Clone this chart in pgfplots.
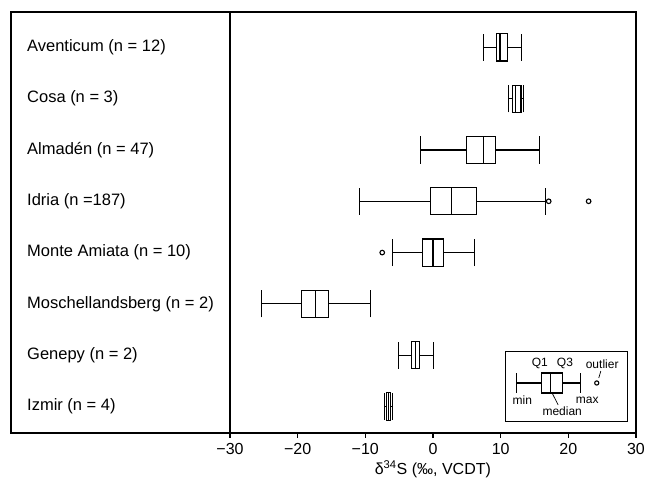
\documentclass[border=0pt]{standalone}
\usepackage{fontspec}
\setmainfont{Liberation Sans}
\usepackage{pgfplots}
\pgfplotsset{compat=1.18}
\usepgfplotslibrary{statistics}

\tikzset{bx/.style={black,line width=1.1pt,solid}}
\newcommand{\bp}[6]{%
\addplot[bx,boxplot prepared={draw position=#1,lower whisker=#2,lower quartile=#3,median=#4,upper quartile=#5,upper whisker=#6}] coordinates {};}

\begin{document}
\fontsize{16.5}{19}\selectfont
\begin{tikzpicture}
\path[use as bounding box] (0,0) rectangle (649pt,481pt);
\begin{axis}[
at={(11pt,48pt)},anchor=south west,
width=625pt,height=421pt,scale only axis,
xmin=-62.36,xmax=30,ymin=0.483,ymax=8.69,
xtick={-30,-20,-10,0,10,20,30},
xticklabels={−30,−20,−10,0,10,20,30},
ytick=\empty,xtick pos=bottom,tick align=outside,
major tick length=5pt,
tick style={black,line width=1.1pt},
axis line style={line width=1.3pt},
tick label style={font=\fontsize{16}{18}\selectfont},
xlabel={δ\textsuperscript{34}S (‰, VCDT)},
xlabel style={at={(axis description cs:0.675,0)},anchor=north,yshift=-22pt,font=\fontsize{16}{18}\selectfont},
boxplot/draw direction=x,
boxplot/box extend=0.53,
boxplot/whisker extend=0.53,
boxplot/every whisker/.style={line width=1.1pt},
boxplot/every box/.style={line width=1.1pt},
boxplot/every median/.style={line width=1.1pt},
clip=false]
\draw[line width=1.3pt] (axis cs:-30,0.483) -- (axis cs:-30,8.69);

% rows: 8 = Aventicum ... 1 = Izmir
\bp{8}{7.5}{9.4}{9.9}{11.0}{13.1}
\bp{7}{11.2}{11.7}{12.2}{13.0}{13.4}
\bp{6}{-1.8}{4.9}{7.5}{9.3}{15.7}
\bp{5}{-10.8}{-0.4}{2.8}{6.4}{16.6}
\bp{4}{-6.0}{-1.6}{0.0}{1.6}{6.2}
\bp{3}{-25.4}{-19.4}{-17.4}{-15.4}{-9.3}
\bp{2}{-5.1}{-3.2}{-2.6}{-2.0}{0.1}
\bp{1}{-7.2}{-6.9}{-6.6}{-6.3}{-6.0}
\addplot[only marks,mark=o,mark size=2.3pt,line width=1.1pt,black] coordinates {(17.1,5) (23.0,5) (-7.5,4)};

\begin{scope}[every node/.style={anchor=west,inner sep=0pt}]
\node at (axis cs:-60.0,8) {Aventicum (n = 12)};
\node at (axis cs:-60.0,7) {Cosa (n = 3)};
\node at (axis cs:-60.0,6) {Almadén (n = 47)};
\node at (axis cs:-60.0,5) {Idria (n =187)};
\node at (axis cs:-60.0,4) {Monte Amiata (n = 10)};
\node at (axis cs:-60.0,3) {Moschellandsberg (n = 2)};
\node at (axis cs:-60.0,2) {Genepy (n = 2)};
\node at (axis cs:-60.0,1) {Izmir (n = 4)};
\end{scope}

% key
\draw[line width=0.9pt] (axis cs:10.64,0.717) rectangle (axis cs:28.67,2.082);
\addplot[black,line width=1.1pt,boxplot/box extend=0.39,boxplot/whisker extend=0.39,
boxplot prepared={draw position=1.458,lower whisker=12.3,lower quartile=16.1,median=17.3,upper quartile=19.2,upper whisker=21.8}] coordinates {};
\addplot[only marks,mark=o,mark size=2.1pt,line width=1.1pt,black] coordinates {(24.2,1.458)};
\draw[line width=0.7pt] (axis cs:17.6,1.263) -- (axis cs:18.5,1.03);
\draw[line width=0.7pt] (axis cs:24.8,1.69) -- (axis cs:24.5,1.556);
\begin{scope}[font=\fontsize{12}{13}\selectfont]
\node at (axis cs:15.8,1.83) {Q1};
\node at (axis cs:19.5,1.83) {Q3};
\node at (axis cs:25.0,1.83) {outlier};
\node at (axis cs:13.2,1.127) {min};
\node at (axis cs:22.8,1.127) {max};
\node at (axis cs:19.1,0.912) {median};
\end{scope}
\end{axis}
\end{tikzpicture}
\end{document}
